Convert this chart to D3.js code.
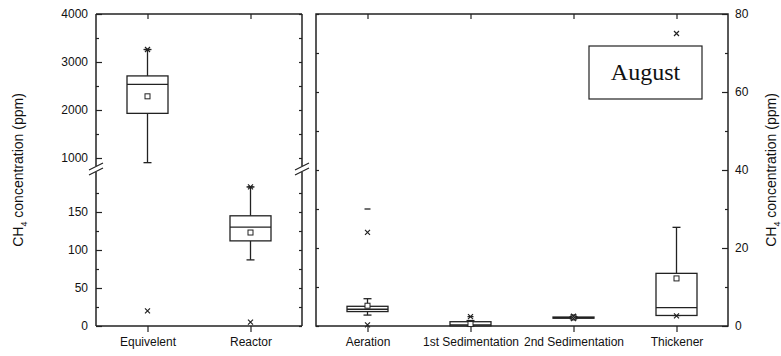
<!DOCTYPE html>
<html lang="en">
<head>
<meta charset="UTF-8">
<title>CH4 concentration - August</title>
<script src="https://d3js.org/d3.v7.min.js"></script>
<style>
  body { margin: 0; background: #fff; }
  svg { display: block; font-family: Arial, "Liberation Sans", sans-serif; }
</style>
</head>
<body>
<div id="chart"></div>
<script>
// ---- data ----
var leftCats = ["Equivelent", "Reactor"];
var leftLow = [903, 87];
var leftQ1 = [1930, 112];
var leftMedian = [2535, 130];
var leftQ3 = [2710, 145];
var leftHigh = [3260, 183];
var leftMean = [2285, 123];
var leftCross = [[3260, 20], [183, 5]];   // 1% / 99% markers
var leftDash = [[3260], [183]];           // min / max markers

var rightCats = ["Aeration", "1st Sedimentation", "2nd Sedimentation", "Thickener"];
var rightLow = [2.8, 0, 1.9, 2.7];
var rightQ1 = [3.7, 0.05, 2.0, 2.7];
var rightMedian = [4.3, 0.3, 2.1, 4.7];
var rightQ3 = [5.05, 1.1, 2.3, 13.5];
var rightHigh = [7.0, 1.4, 2.4, 25.3];
var rightMean = [5.2, 0.5, 2.2, 12.2];
var rightCross = [[24, 0.3], [2.4], [2.5, 1.9], [75, 2.6]];
var rightDash = [[30], [2.4], [], []];

var leftLowTicks = [0, 50, 100, 150];
var leftLowMinor = [25, 75, 125, 175];
var leftUpTicks = [1000, 2000, 3000, 4000];
var leftUpMinor = [1500, 2500, 3500];
var rightTicks = [0, 20, 40, 60, 80];
var rightMinor = [10, 30, 50, 70];

// ---- layout ----
var W = 781, H = 356;
var yTop = 14, yBot = 326;
var brkTop = 166, brkBot = 172;
var L = {x0: 96, x1: 302};
var R = {x0: 316, x1: 728};
var ink = "#222";

var svg = d3.select("#chart").append("svg")
  .attr("width", W).attr("height", H);

// scales
var xL = d3.scalePoint().domain(leftCats).range([L.x0, L.x1]).padding(0.5);
var xR = d3.scalePoint().domain(rightCats).range([R.x0, R.x1]).padding(0.5);
var yLow = d3.scaleLinear().domain([0, 200]).range([yBot, yBot - 200 * 0.76]);
var yUp = d3.scaleLinear().domain([1000, 4000]).range([158, yTop]);
var yL = function (v) { return v >= 800 ? yUp(v) : yLow(v); };
var yR = d3.scaleLinear().domain([0, 80]).range([yBot, yTop]);

function styleAxis(g) {
  g.select(".domain").remove();
  g.selectAll("line").attr("stroke", ink).attr("stroke-width", 1.2);
  g.selectAll("text").attr("fill", "#111").style("font-size", "12px");
}

// ---- left panel axes ----
svg.append("g").attr("transform", "translate(" + L.x0 + ",0)")
  .call(d3.axisLeft(yLow).tickValues(leftLowTicks).tickSize(-6).tickPadding(8)).call(styleAxis);
svg.append("g").attr("transform", "translate(" + L.x0 + ",0)")
  .call(d3.axisLeft(yLow).tickValues(leftLowMinor).tickSize(-3).tickFormat("")).call(styleAxis);
svg.append("g").attr("transform", "translate(" + L.x0 + ",0)")
  .call(d3.axisLeft(yUp).tickValues(leftUpTicks).tickSize(-6).tickPadding(8).tickFormat(d3.format("d"))).call(styleAxis);
svg.append("g").attr("transform", "translate(" + L.x0 + ",0)")
  .call(d3.axisLeft(yUp).tickValues(leftUpMinor).tickSize(-3).tickFormat("")).call(styleAxis);
// mirror ticks on right edge of left panel
svg.append("g").attr("transform", "translate(" + L.x1 + ",0)")
  .call(d3.axisRight(yLow).tickValues(leftLowTicks.concat(leftLowMinor)).tickSize(-3).tickFormat("")).call(styleAxis);
svg.append("g").attr("transform", "translate(" + L.x1 + ",0)")
  .call(d3.axisRight(yUp).tickValues(leftUpTicks.concat(leftUpMinor)).tickSize(-3).tickFormat("")).call(styleAxis);
svg.append("g").attr("transform", "translate(0," + yBot + ")")
  .call(d3.axisBottom(xL).tickSize(6).tickPadding(5)).call(styleAxis);
svg.append("g").attr("transform", "translate(0," + yTop + ")")
  .call(d3.axisTop(xL).tickSize(-5).tickFormat("")).call(styleAxis);

// ---- right panel axes ----
svg.append("g").attr("transform", "translate(" + R.x1 + ",0)")
  .call(d3.axisRight(yR).tickValues(rightTicks).tickSize(-6).tickPadding(7)).call(styleAxis);
svg.append("g").attr("transform", "translate(" + R.x1 + ",0)")
  .call(d3.axisRight(yR).tickValues(rightMinor).tickSize(-3).tickFormat("")).call(styleAxis);
svg.append("g").attr("transform", "translate(" + R.x0 + ",0)")
  .call(d3.axisLeft(yR).tickValues(rightTicks.concat(rightMinor)).tickSize(-3).tickFormat("")).call(styleAxis);
svg.append("g").attr("transform", "translate(0," + yBot + ")")
  .call(d3.axisBottom(xR).tickSize(6).tickPadding(5)).call(styleAxis);
svg.append("g").attr("transform", "translate(0," + yTop + ")")
  .call(d3.axisTop(xR).tickSize(-5).tickFormat("")).call(styleAxis);

// ---- frames ----
var frame = svg.append("g").attr("stroke", ink).attr("stroke-width", 1.5).attr("fill", "none");
[[L.x0, yTop, L.x1, yTop], [L.x0, yBot, L.x1, yBot],
 [L.x0, yTop, L.x0, brkTop], [L.x0, brkBot, L.x0, yBot],
 [L.x1, yTop, L.x1, brkTop], [L.x1, brkBot, L.x1, yBot]].forEach(function (s) {
  frame.append("line").attr("x1", s[0]).attr("y1", s[1]).attr("x2", s[2]).attr("y2", s[3]);
});
frame.append("rect").attr("x", R.x0).attr("y", yTop)
  .attr("width", R.x1 - R.x0).attr("height", yBot - yTop);

// axis break marks
[L.x0, L.x1].forEach(function (x) {
  [brkTop + 0.5, brkBot - 0.5].forEach(function (y) {
    frame.append("line").attr("stroke-width", 1.1)
      .attr("x1", x - 7).attr("y1", y + 3.5).attr("x2", x + 7).attr("y2", y - 3.5);
  });
});

// ---- boxes ----
function drawBoxes(cats, x, y, lo, q1, med, q3, hi, mean, cross, dash) {
  var g = svg.append("g").attr("stroke", ink).attr("stroke-width", 1.3).attr("fill", "none");
  var bw = 41, cap = 8;
  cats.forEach(function (c, i) {
    var cx = x(c);
    g.append("line").attr("x1", cx).attr("x2", cx).attr("y1", y(q3[i])).attr("y2", y(hi[i]));
    g.append("line").attr("x1", cx).attr("x2", cx).attr("y1", y(q1[i])).attr("y2", y(lo[i]));
    g.append("line").attr("x1", cx - cap / 2).attr("x2", cx + cap / 2).attr("y1", y(hi[i])).attr("y2", y(hi[i]));
    g.append("line").attr("x1", cx - cap / 2).attr("x2", cx + cap / 2).attr("y1", y(lo[i])).attr("y2", y(lo[i]));
    g.append("rect").attr("x", cx - bw / 2).attr("width", bw)
      .attr("y", y(q3[i])).attr("height", Math.max(0.5, y(q1[i]) - y(q3[i])))
      .attr("fill", "#fff");
    g.append("line").attr("x1", cx - bw / 2).attr("x2", cx + bw / 2).attr("y1", y(med[i])).attr("y2", y(med[i]));
    g.append("rect").attr("x", cx - 2.5).attr("y", y(mean[i]) - 2.5)
      .attr("width", 5).attr("height", 5).attr("stroke-width", 1).attr("fill", "#fff");
    cross[i].forEach(function (v) {
      var yy = y(v);
      g.append("path").attr("stroke-width", 1.2)
        .attr("d", "M" + (cx - 2.5) + "," + (yy - 2.5) + "L" + (cx + 2.5) + "," + (yy + 2.5) +
                   "M" + (cx - 2.5) + "," + (yy + 2.5) + "L" + (cx + 2.5) + "," + (yy - 2.5));
    });
    dash[i].forEach(function (v) {
      g.append("line").attr("x1", cx - 3).attr("x2", cx + 3).attr("y1", y(v)).attr("y2", y(v));
    });
  });
}
drawBoxes(leftCats, xL, yL, leftLow, leftQ1, leftMedian, leftQ3, leftHigh, leftMean, leftCross, leftDash);
drawBoxes(rightCats, xR, yR, rightLow, rightQ1, rightMedian, rightQ3, rightHigh, rightMean, rightCross, rightDash);

// ---- titles ----
function yTitle(x) {
  var t = svg.append("text")
    .attr("transform", "translate(" + x + "," + ((yTop + yBot) / 2) + ") rotate(-90)")
    .attr("text-anchor", "middle").style("font-size", "14px").attr("fill", "#111");
  t.append("tspan").text("CH");
  t.append("tspan").attr("dy", 4).style("font-size", "9px").text("4");
  t.append("tspan").attr("dy", -4).text(" concentration (ppm)");
}
yTitle(23);
yTitle(776);

// ---- August label ----
svg.append("rect").attr("x", 589).attr("y", 46).attr("width", 113).attr("height", 53)
  .attr("fill", "#fff").attr("stroke", ink).attr("stroke-width", 1.2);
svg.append("text").attr("x", 645.5).attr("y", 80).attr("text-anchor", "middle")
  .style("font-family", "'Liberation Serif', 'Times New Roman', serif").style("font-size", "24px")
  .attr("fill", "#111").text("August");
</script>
</body>
</html>
